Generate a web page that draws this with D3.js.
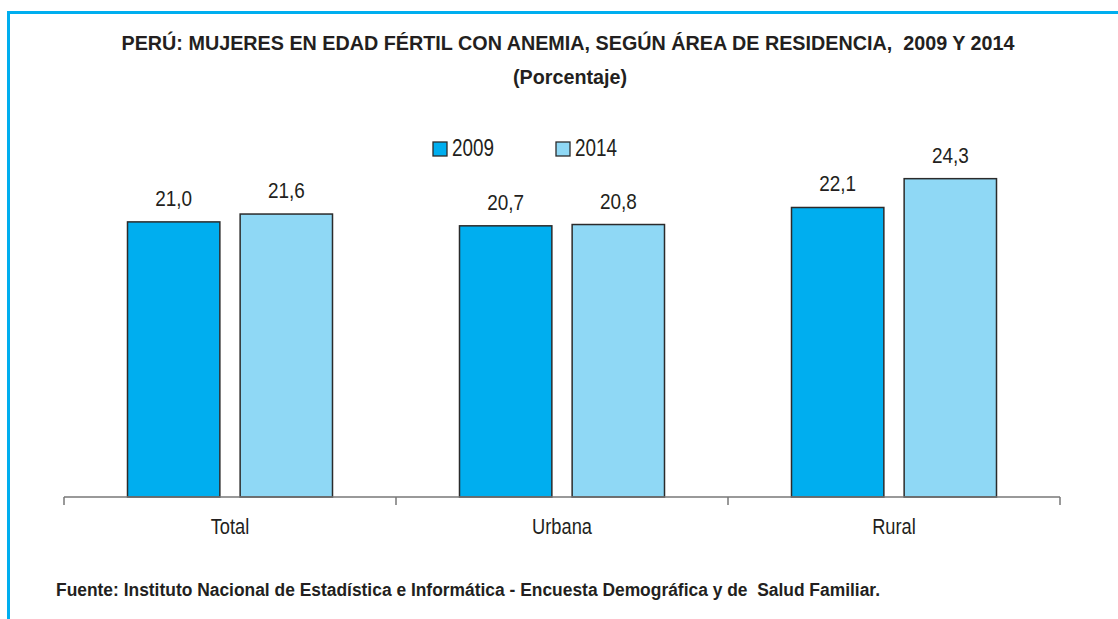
<!DOCTYPE html>
<html>
<head>
<meta charset="utf-8">
<script src="https://cdn.jsdelivr.net/npm/d3@7"></script>
<style>
body { margin: 0; background: #fff; }
svg { display: block; }
text { font-family: "Liberation Sans", Arial, sans-serif; fill: #231f20; }
</style>
</head>
<body>
<svg id="chart" width="1118" height="619"></svg>
<script>
var categories = ["Total", "Urbana", "Rural"];
var years = ["2009", "2014"];
var values2009 = [21.0, 20.7, 22.1];
var values2014 = [21.6, 20.8, 24.3];
var colors = ["#00aeef", "#8fd8f5"];

var svg = d3.select("#chart");

// squeeze text so it looks like the narrow face of the original
function narrow(sel, f) {
  sel.each(function () {
    var w = this.getComputedTextLength();
    d3.select(this).attr("textLength", w * f).attr("lengthAdjust", "spacingAndGlyphs");
  });
}

// frame
svg.append("path")
  .attr("d", "M8.5,619 L8.5,12.5 L1118,12.5")
  .attr("fill", "none")
  .attr("stroke", "#00aeef")
  .attr("stroke-width", 3);

svg.append("text")
  .attr("x", 568).attr("y", 50)
  .attr("text-anchor", "middle")
  .attr("font-size", "21px").attr("font-weight", "bold")
  .attr("textLength", 893).attr("lengthAdjust", "spacingAndGlyphs")
  .attr("xml:space", "preserve")
  .text("PERÚ: MUJERES EN EDAD FÉRTIL CON ANEMIA, SEGÚN ÁREA DE RESIDENCIA,  2009 Y 2014");
svg.append("text")
  .attr("x", 570).attr("y", 84)
  .attr("text-anchor", "middle")
  .attr("font-size", "20px").attr("font-weight", "bold")
  .attr("textLength", 114).attr("lengthAdjust", "spacingAndGlyphs")
  .text("(Porcentaje)");

var left = 64, right = 1060, base = 497;
var x = d3.scaleBand().domain(categories).range([left, right]);
var xs = d3.scaleBand().domain(years).range([0, 205]).paddingInner(0.18).paddingOuter(0);
var y = d3.scaleLinear().domain([0, 30]).range([base, 104]);
var offs = (x.bandwidth() - 205) / 2;

var data = [];
categories.forEach(function (c, i) {
  data.push({ cat: c, year: "2009", v: values2009[i] });
  data.push({ cat: c, year: "2014", v: values2014[i] });
});

var g = svg.append("g");

g.selectAll(".bar")
  .data(data)
  .enter()
  .append("rect")
  .attr("class", "bar")
  .attr("x", function (d) { return x(d.cat) + offs + xs(d.year); })
  .attr("y", function (d) { return y(d.v); })
  .attr("width", xs.bandwidth())
  .attr("height", function (d) { return base - y(d.v); })
  .attr("fill", function (d) { return d.year === "2009" ? colors[0] : colors[1]; })
  .attr("stroke", "#2b2b2b")
  .attr("stroke-width", 1.5);

g.selectAll(".lbl")
  .data(data)
  .enter()
  .append("text")
  .attr("class", "lbl")
  .attr("x", function (d) { return x(d.cat) + offs + xs(d.year) + xs.bandwidth() / 2; })
  .attr("y", function (d) { return y(d.v) - 16; })
  .attr("text-anchor", "middle")
  .attr("font-size", "22px")
  .text(function (d) { return d3.format(".1f")(d.v).replace(".", ","); })
  .call(narrow, 0.86);

// axis
var ax = svg.append("g").attr("transform", "translate(0," + base + ")");
ax.append("line").attr("x1", left).attr("x2", right).attr("stroke", "#777").attr("stroke-width", 1.5);
var tickPos = categories.map(function (c) { return x(c); }).concat([right]);
ax.selectAll(".tk").data(tickPos).enter().append("line")
  .attr("x1", function (d) { return d; }).attr("x2", function (d) { return d; })
  .attr("y1", 0).attr("y2", 8)
  .attr("stroke", "#777").attr("stroke-width", 1.5);
ax.selectAll(".cl").data(categories).enter().append("text")
  .attr("x", function (c) { return x(c) + x.bandwidth() / 2; })
  .attr("y", 37)
  .attr("text-anchor", "middle")
  .attr("font-size", "22px")
  .text(function (c) { return c; })
  .call(narrow, 0.83);

// legend
var lg = svg.append("g");
var lx = [433, 556];
years.forEach(function (yr, i) {
  lg.append("rect").attr("x", lx[i]).attr("y", 142).attr("width", 14).attr("height", 14)
    .attr("fill", colors[i]).attr("stroke", "#2b2b2b").attr("stroke-width", 1.3);
  lg.append("text").attr("x", lx[i] + 19).attr("y", 156)
    .attr("font-size", "23px").text(yr)
    .call(narrow, 0.82);
});

svg.append("text")
  .attr("x", 56).attr("y", 596)
  .attr("font-size", "18px").attr("font-weight", "bold")
  .attr("textLength", 824).attr("lengthAdjust", "spacingAndGlyphs")
  .attr("xml:space", "preserve")
  .text("Fuente: Instituto Nacional de Estadística e Informática - Encuesta Demográfica y de  Salud Familiar.");
</script>
</body>
</html>
